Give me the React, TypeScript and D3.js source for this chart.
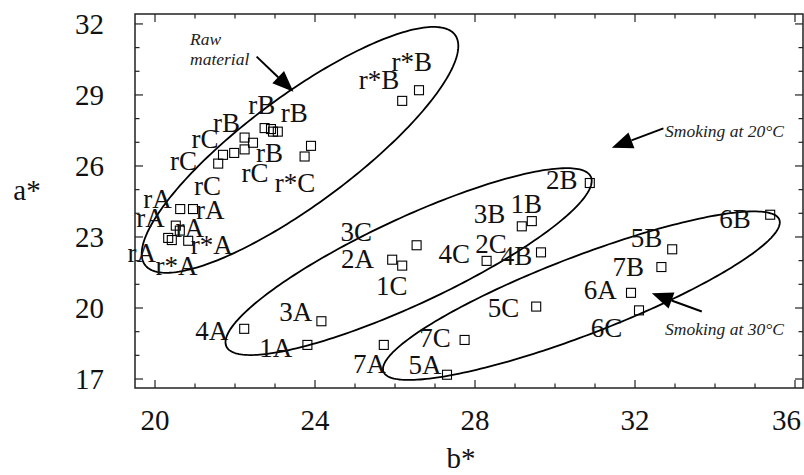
import React from "react";
import * as d3 from "d3";

// ---- data ----
const pointB = [26.18, 26.6, 22.74, 22.9, 22.95, 23.07, 22.24, 22.45, 22.24, 21.98, 21.7, 21.58, 23.9, 23.74,
  20.63, 20.95, 20.52, 20.62, 20.33, 20.42, 20.83,
  30.87, 29.42, 29.17, 26.54, 25.93, 26.18, 28.29, 29.65,
  35.38, 32.93, 32.66, 31.9, 32.1, 29.53, 27.74, 27.3, 25.72, 24.16, 22.23, 23.81];
const pointA = [28.75, 29.2, 27.6, 27.56, 27.45, 27.45, 27.2, 26.98, 26.7, 26.55, 26.47, 26.1, 26.85, 26.4,
  24.18, 24.18, 23.48, 23.27, 22.96, 22.87, 22.84,
  25.28, 23.67, 23.45, 22.65, 22.04, 21.79, 21.99, 22.35,
  23.94, 22.48, 21.73, 20.64, 19.9, 20.06, 18.65, 17.18, 18.44, 19.44, 19.12, 18.44];

const labelText = ["r*B", "r*B", "rB", "rB", "rB", "rC", "rB", "rC", "rC", "r*C", "rC",
  "rA", "rA", "rA", "rA", "r*A", "rA", "r*A",
  "2A", "1C", "3A", "4A", "1A", "7A", "5A",
  "2B", "1B", "3B", "3C", "2C", "4C", "4B", "5C", "7C",
  "6B", "5B", "7B", "6A", "6C"];
const labelB = [26.42, 25.6, 22.67, 23.48, 21.79, 21.25, 22.86, 20.71, 22.5, 23.5, 21.31,
  20.06, 21.38, 19.89, 20.87, 21.42, 19.67, 20.54,
  25.06, 25.92, 23.52, 21.42, 23.02, 25.36, 26.75,
  30.17, 29.28, 28.36, 25.03, 28.4, 27.48, 29.04, 28.71, 27.0,
  34.5, 32.29, 31.83, 31.13, 31.29];
const labelA = [30.03, 29.25, 28.2, 27.87, 27.44, 26.77, 26.18, 25.83, 25.34, 24.92, 24.78,
  24.21, 23.75, 23.44, 23.0, 22.27, 21.96, 21.4,
  21.68, 20.55, 19.45, 18.65, 17.94, 17.24, 17.21,
  25.02, 24.0, 23.58, 22.83, 22.31, 21.92, 21.82, 19.63, 18.34,
  23.37, 22.57, 21.35, 20.37, 18.76];

// ellipses: center (b,a), major half-axis vector, minor half-axis vector (data units)
const ellipseCenter = [[23.625, 26.68], [26.34, 21.96], [30.66, 20.52]];
const ellipseMajor = [[3.875, 4.86], [4.555, 3.587], [4.948, 3.211]];
const ellipseMinor = [[0.805, -1.834], [0.455, -1.648], [0.35, -1.538]];

// annotations
const noteLines = ["Raw", "material", "Smoking at 20°C", "Smoking at 30°C"];
const noteB = [20.875, 20.875, 32.75, 32.75];
const noteA = [31.11, 30.27, 27.24, 18.86];
const arrowFrom = [[22.54, 30.62], [32.71, 27.59], [33.67, 19.85]];
const arrowTo = [[23.46, 29.14], [31.42, 26.77], [32.42, 20.62]];

const xMajor = [20, 24, 28, 32, 36];
const yMajor = [17, 20, 23, 26, 29, 32];
const xMinor = d3.range(20, 37, 1);
const yMinor = d3.range(17, 33, 1);

const W = 804, H = 475;
const FONT = "'Liberation Serif', 'Times New Roman', serif";

export default function App() {
  const x = d3.scaleLinear().domain([19.5, 36.2]).range([135, 803]);
  const y = d3.scaleLinear().domain([16.62, 32.42]).range([388, 14]);
  const left = x(19.5), right = x(36.2), top = y(32.42), bottom = y(16.62);

  const line = d3.line<[number, number]>().x(d => d[0]).y(d => d[1]).curve(d3.curveLinearClosed);
  const ellipsePaths = ellipseCenter.map((c, i) => {
    const pts: [number, number][] = d3.range(0, 240).map(k => {
      const t = (k / 240) * Math.PI * 2;
      const b = c[0] + Math.cos(t) * ellipseMajor[i][0] + Math.sin(t) * ellipseMinor[i][0];
      const a = c[1] + Math.cos(t) * ellipseMajor[i][1] + Math.sin(t) * ellipseMinor[i][1];
      return [x(b), y(a)];
    });
    return line(pts) as string;
  });

  const arrows = arrowFrom.map((f, i) => {
    const x1 = x(f[0]), y1 = y(f[1]);
    const x2 = x(arrowTo[i][0]), y2 = y(arrowTo[i][1]);
    const dx = x2 - x1, dy = y2 - y1;
    const len = Math.hypot(dx, dy);
    const ux = dx / len, uy = dy / len;
    const hl = 21, hw = 8.5;
    const bx = x2 - ux * hl, by = y2 - uy * hl;
    const head = `M${x2},${y2}L${bx - uy * hw},${by + ux * hw}L${bx + uy * hw},${by - ux * hw}Z`;
    return { x1, y1, bx, by, head };
  });

  const sq = 9;
  const stroke = "#222";
  const lastX = xMajor[xMajor.length - 1];

  return (
    <div style={{ position: "fixed", left: 0, top: 0 }}>
      <svg width={W} height={H} style={{ display: "block", background: "#fff" }} fontFamily={FONT}>
        {/* ellipses */}
        {ellipsePaths.map((d, i) => (
          <path key={"e" + i} d={d} fill="none" stroke="#000" strokeWidth={1.8} />
        ))}
        {/* points */}
        {pointB.map((b, i) => (
          <rect key={"p" + i} x={x(b) - sq / 2} y={y(pointA[i]) - sq / 2} width={sq} height={sq}
            fill="none" stroke="#000" strokeWidth={1.1} />
        ))}
        {/* labels */}
        {labelText.map((t, i) => (
          <text key={"l" + i} x={x(labelB[i])} y={y(labelA[i])} textAnchor="middle" fontSize={27} fill="#111">{t}</text>
        ))}
        {/* annotations */}
        {noteLines.map((t, i) => (
          <text key={"n" + i} x={x(noteB[i])} y={y(noteA[i])} fontSize={17.5} fontStyle="italic" fill="#222">{t}</text>
        ))}
        {arrows.map((a, i) => (
          <g key={"a" + i}>
            <line x1={a.x1} y1={a.y1} x2={a.bx} y2={a.by} stroke="#000" strokeWidth={2} />
            <path d={a.head} fill="#000" />
          </g>
        ))}
        {/* frame */}
        <rect x={left} y={top} width={right - left} height={bottom - top} fill="none" stroke={stroke} strokeWidth={1.5} />
        {/* x ticks bottom & top */}
        {xMinor.map(v => {
          const major = xMajor.includes(v);
          const L = major ? 8 : 4.5;
          return (
            <g key={"xt" + v}>
              <line x1={x(v)} x2={x(v)} y1={bottom} y2={bottom - L} stroke={stroke} strokeWidth={1.2} />
              <line x1={x(v)} x2={x(v)} y1={top} y2={top + L} stroke={stroke} strokeWidth={1.2} />
            </g>
          );
        })}
        {yMinor.map(v => {
          const major = yMajor.includes(v);
          const L = major ? 8 : 4.5;
          return (
            <g key={"yt" + v}>
              <line x1={left} x2={left + L} y1={y(v)} y2={y(v)} stroke={stroke} strokeWidth={1.2} />
              <line x1={right} x2={right - L} y1={y(v)} y2={y(v)} stroke={stroke} strokeWidth={1.2} />
            </g>
          );
        })}
        {xMajor.map(v => (
          <text key={"xl" + v} x={v === lastX ? W - 3 : x(v)} y={430} textAnchor={v === lastX ? "end" : "middle"}
            fontSize={29} fill="#111">{v}</text>
        ))}
        {yMajor.map(v => (
          <text key={"yl" + v} x={104} y={y(v) + 10} textAnchor="end" fontSize={29} fill="#111">{v}</text>
        ))}
        <text x={461} y={468} textAnchor="middle" fontSize={29} fill="#111">b*</text>
        <text x={27} y={200} textAnchor="middle" fontSize={29} fill="#111">a*</text>
      </svg>
    </div>
  );
}
